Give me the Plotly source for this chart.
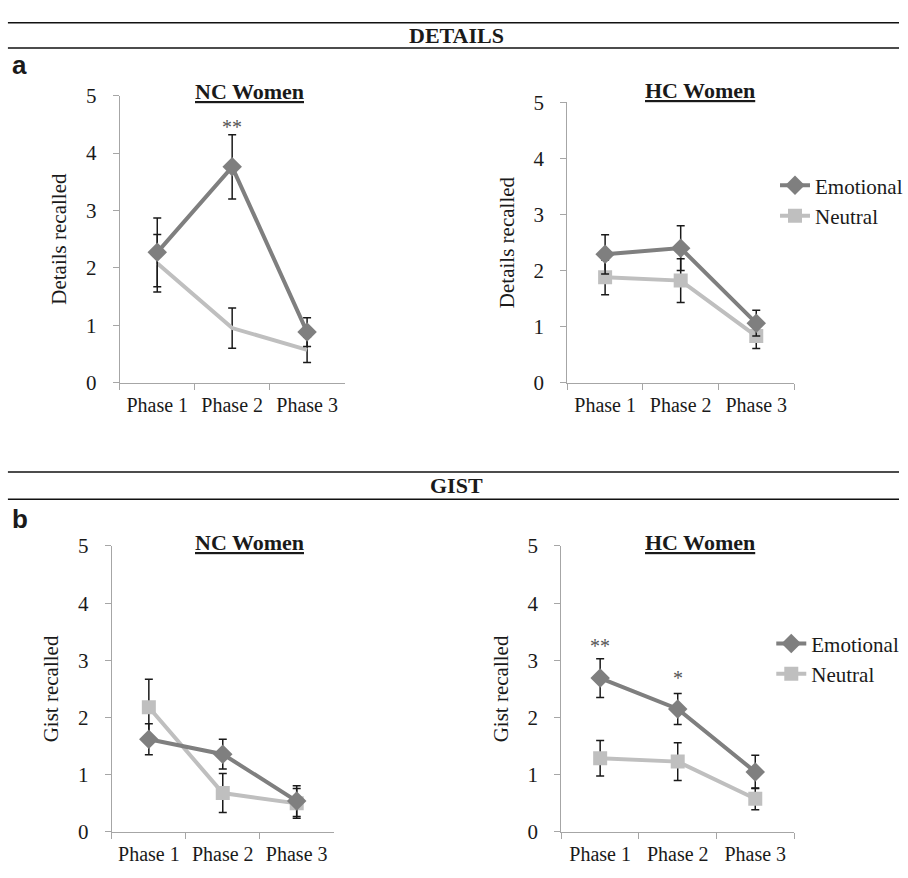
import plotly.graph_objects as go

W, H = 908, 878

phases = ["Phase 1", "Phase 2", "Phase 3"]

# Panel a: DETAILS
nc_det_emo = [2.27, 3.76, 0.88]
nc_det_emo_err = [0.60, 0.56, 0.25]
nc_det_neu = [2.08, 0.95, 0.57]
nc_det_neu_err = [0.50, 0.35, 0.22]

hc_det_emo = [2.29, 2.40, 1.06]
hc_det_emo_err = [0.35, 0.40, 0.23]
hc_det_neu = [1.88, 1.82, 0.83]
hc_det_neu_err = [0.31, 0.39, 0.22]

# Panel b: GIST
nc_gist_emo = [1.62, 1.36, 0.54]
nc_gist_emo_err = [0.27, 0.26, 0.27]
nc_gist_neu = [2.18, 0.68, 0.50]
nc_gist_neu_err = [0.49, 0.34, 0.26]

hc_gist_emo = [2.69, 2.15, 1.05]
hc_gist_emo_err = [0.34, 0.27, 0.29]
hc_gist_neu = [1.29, 1.23, 0.58]
hc_gist_neu_err = [0.31, 0.33, 0.19]

EMO = "#7f7f7f"
NEU = "#bfbfbf"
AX = "#a6a6a6"
TXT = "#1a1a1a"
SERIF = "'Liberation Serif', 'Times New Roman', 'DejaVu Serif', serif"
SANS = "'Liberation Sans', Arial, sans-serif"

fig = go.Figure()


def px_x(p):
    return p / W


def px_y(p):
    return 1 - p / H


# panel pixel boxes: (x0, x1, ytop, ybottom)
boxes = {
    1: (121, 348, 86, 381),
    2: (573, 802, 93, 381),
    3: (113, 337, 549, 843),
    4: (567, 802, 549, 843),
}


def err(vals):
    return dict(type="data", array=vals, visible=True, color="#1a1a1a",
                thickness=1.5, width=4)


def add_panel(idx, emo, emo_e, neu, neu_e, neu_markers=True, legend=None):
    xa = "x" if idx == 1 else f"x{idx}"
    ya = "y" if idx == 1 else f"y{idx}"
    show = legend is not None
    fig.add_trace(go.Scatter(
        x=phases, y=neu, error_y=err(neu_e), name="Neutral",
        mode="lines+markers" if neu_markers else "lines",
        line=dict(color=NEU, width=4),
        marker=dict(symbol="square", size=14, color=NEU),
        xaxis=xa, yaxis=ya, showlegend=show,
        legend=legend if legend else "legend", legendrank=2,
        legendgroup=f"n{idx}",
    ))
    fig.add_trace(go.Scatter(
        x=phases, y=emo, error_y=err(emo_e), name="Emotional",
        mode="lines+markers",
        line=dict(color=EMO, width=4),
        marker=dict(symbol="diamond", size=15, color=EMO),
        xaxis=xa, yaxis=ya, showlegend=show,
        legend=legend if legend else "legend", legendrank=1,
        legendgroup=f"e{idx}",
    ))


add_panel(1, nc_det_emo, nc_det_emo_err, nc_det_neu, nc_det_neu_err, neu_markers=False)
add_panel(2, hc_det_emo, hc_det_emo_err, hc_det_neu, hc_det_neu_err, legend="legend")
add_panel(3, nc_gist_emo, nc_gist_emo_err, nc_gist_neu, nc_gist_neu_err)
add_panel(4, hc_gist_emo, hc_gist_emo_err, hc_gist_neu, hc_gist_neu_err, legend="legend2")

ytitles = {1: "Details recalled", 2: "Details recalled", 3: "Gist recalled", 4: "Gist recalled"}

layout = {}
for idx, (x0, x1, yt, yb) in boxes.items():
    xk = "xaxis" if idx == 1 else f"xaxis{idx}"
    yk = "yaxis" if idx == 1 else f"yaxis{idx}"
    xa = "x" if idx == 1 else f"x{idx}"
    ya = "y" if idx == 1 else f"y{idx}"
    layout[xk] = dict(
        domain=[px_x(x0), px_x(x1)], anchor=ya, type="category",
        range=[-0.5, 2.5], tickson="boundaries", ticks="outside", ticklen=6,
        tickcolor=AX, showline=True, linecolor=AX, linewidth=1.3,
        showgrid=False, zeroline=False,
        tickfont=dict(family=SERIF, size=20, color=TXT), ticklabelstandoff=4,
    )
    layout[yk] = dict(
        domain=[px_y(yb), px_y(yt)], anchor=xa, range=[0, 5], dtick=1,
        ticks="outside", ticklen=6, tickcolor=AX, showline=True, linecolor=AX,
        linewidth=1.3, showgrid=False, zeroline=False,
        tickfont=dict(family=SERIF, size=21, color=TXT), ticklabelstandoff=12,
        title=dict(text=ytitles[idx], font=dict(family=SERIF, size=21, color=TXT), standoff=13),
    )

fig.update_layout(**layout)

legend_common = dict(
    xanchor="left", yanchor="middle", bgcolor="rgba(0,0,0,0)",
    font=dict(family=SERIF, size=21, color=TXT), itemwidth=30,
    tracegroupgap=10, borderwidth=0, traceorder="normal",
)
fig.update_layout(
    legend=dict(x=px_x(783), y=px_y(194), **legend_common),
    legend2=dict(x=px_x(779), y=px_y(665), **legend_common),
)

annotations = []
# Panel titles
titles = [(252, 82, "NC Women"), (707, 81, "HC Women"), (252, 545, "NC Women"), (707, 545, "HC Women")]
for x, y, t in titles:
    annotations.append(dict(
        x=px_x(x), y=px_y(y), xref="paper", yref="paper", text=f"<b><u>{t}</u></b>",
        showarrow=False, xanchor="center", yanchor="middle",
        font=dict(family=SERIF, size=22, color=TXT),
    ))
# Section headers
for y, t in [(24, "DETAILS"), (487, "GIST")]:
    annotations.append(dict(
        x=px_x(461), y=px_y(y), xref="paper", yref="paper", text=f"<b>{t}</b>",
        showarrow=False, xanchor="center", yanchor="middle",
        font=dict(family=SERIF, size=22, color=TXT),
    ))
# Panel letters
for y, t in [(55, "a"), (521, "b")]:
    annotations.append(dict(
        x=px_x(10), y=px_y(y), xref="paper", yref="paper", text=f"<b>{t}</b>",
        showarrow=False, xanchor="left", yanchor="middle",
        font=dict(family=SANS, size=26, color=TXT),
    ))
# Significance stars
stars = [("x", "y", "Phase 2", 4.45, "**"), ("x4", "y4", "Phase 1", 3.25, "**"), ("x4", "y4", "Phase 2", 2.7, "*")]
for xr, yr, xv, yv, t in stars:
    annotations.append(dict(
        x=xv, y=yv, xref=xr, yref=yr, text=t, showarrow=False,
        xanchor="center", yanchor="middle",
        font=dict(family=SERIF, size=20, color="#555555"),
    ))

shapes = []
for y in [11, 37, 473, 501]:
    shapes.append(dict(type="line", xref="paper", yref="paper",
                       x0=px_x(8), x1=1, y0=px_y(y), y1=px_y(y),
                       line=dict(color="#111111", width=1.5)))

fig.update_layout(
    width=W, height=H, margin=dict(l=0, r=0, t=0, b=0),
    paper_bgcolor="white", plot_bgcolor="white",
    annotations=annotations, shapes=shapes,
    font=dict(family=SERIF, color=TXT),
)

fig.write_html(
    "out.html",
    config={"displayModeBar": False},
    post_script="document.body.style.margin='0';document.body.style.overflow='hidden';",
)
